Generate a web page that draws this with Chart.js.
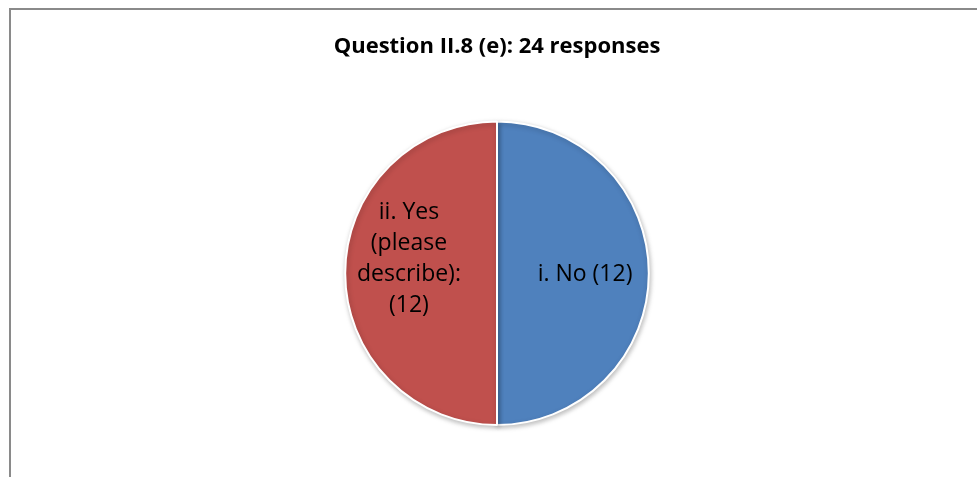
<!DOCTYPE html>
<html>
<head>
<meta charset="utf-8">
<script src="https://cdn.jsdelivr.net/npm/chart.js@4/dist/chart.umd.min.js"></script>
<style>
  html, body { margin: 0; padding: 0; background: #fff; }
  #wrap { position: relative; width: 977px; height: 477px; }
  #frame {
    position: absolute; left: 9px; top: 8px; right: -20px; bottom: -20px;
    border-top: 2px solid #8a8a8a; border-left: 2px solid #8a8a8a;
  }
  canvas { position: absolute; left: 0; top: 0; }
</style>
</head>
<body>
<div id="wrap">
  <div id="frame"></div>
  <canvas id="myChart" width="977" height="477"></canvas>
</div>
<script>
// data
const categories = ["i. No", "ii. Yes (please describe):"];
const counts = [12, 12];
const titleText = "Question II.8 (e): 24 responses";

const sliceColors = ["#4F81BD", "#C0504D"];
const labelFont = "23px 'Open Sans'";

// word wrap helper
function wrapText(ctx, text, maxWidth) {
  const words = text.split(" ");
  const lines = [];
  let line = "";
  words.forEach((w) => {
    const test = line ? line + " " + w : w;
    if (line && ctx.measureText(test).width > maxWidth) {
      lines.push(line);
      line = w;
    } else {
      line = test;
    }
  });
  if (line) lines.push(line);
  return lines;
}

// labels inside slices
const sliceLabels = {
  id: "sliceLabels",
  afterDatasetsDraw(chart) {
    const ctx = chart.ctx;
    const meta = chart.getDatasetMeta(0);
    ctx.save();
    ctx.font = labelFont;
    ctx.fillStyle = "#000";
    ctx.textAlign = "center";
    ctx.textBaseline = "middle";
    meta.data.forEach((arc, i) => {
      const p = arc.getProps(["x", "y", "startAngle", "endAngle", "outerRadius"], true);
      const mid = (p.startAngle + p.endAngle) / 2;
      const r = p.outerRadius * 0.58;
      const cx = p.x + Math.cos(mid) * r;
      const cy = p.y + Math.sin(mid) * r;
      const lines = wrapText(ctx, categories[i] + " (" + counts[i] + ")", 130);
      const lh = 31;
      const anchor = Math.floor(lines.length / 2);
      lines.forEach((ln, k) => {
        ctx.fillText(ln, cx, cy + 1 + (k - anchor) * lh);
      });
    });
    ctx.restore();
  },
};

// soft shadow under the pie
const pieShadow = {
  id: "pieShadow",
  beforeDatasetsDraw(chart) {
    chart.ctx.save();
    chart.ctx.shadowColor = "rgba(0,0,0,0.25)";
    chart.ctx.shadowBlur = 5;
    chart.ctx.shadowOffsetX = 1;
    chart.ctx.shadowOffsetY = 2;
  },
  afterDatasetsDraw(chart) {
    chart.ctx.restore();
  },
};

const data = {
  labels: categories,
  datasets: [
    {
      data: counts,
      backgroundColor: sliceColors,
      borderColor: "#ffffff",
      borderWidth: 2,
    },
  ],
};

const config = {
  type: "pie",
  data,
  options: {
    responsive: false,
    animation: false,
    layout: { padding: { left: 17, right: 0, top: 0, bottom: 51 } },
    plugins: {
      legend: { display: false },
      tooltip: { enabled: false },
      title: {
        display: true,
        text: titleText,
        color: "#000",
        font: { family: "'Open Sans'", size: 22, weight: "bold" },
        padding: { top: 34, bottom: 60 },
      },
    },
  },
  plugins: [pieShadow, sliceLabels],
};

const myChart = new Chart(document.getElementById("myChart"), config);
</script>
</body>
</html>
